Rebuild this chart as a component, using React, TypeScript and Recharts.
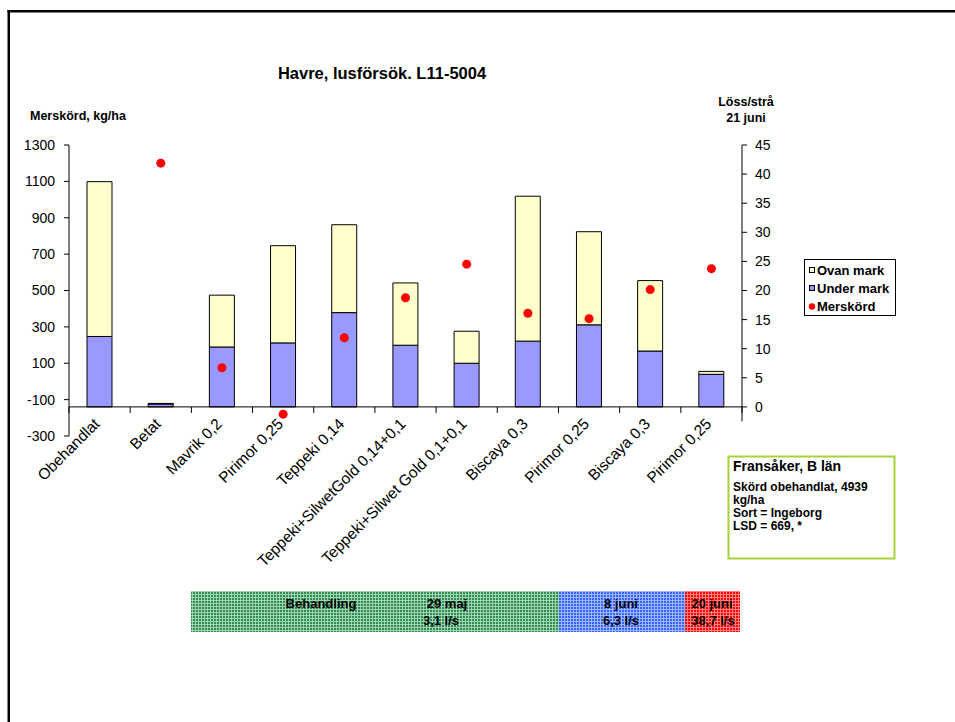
import React from 'react';
import { ComposedChart, Bar, Line, XAxis, YAxis, ReferenceLine } from 'recharts';

// ---------- data ----------
const categories = [
  'Obehandlat',
  'Betat',
  'Mavrik 0,2',
  'Pirimor 0,25',
  'Teppeki 0,14',
  'Teppeki+SilwetGold 0,14+0,1',
  'Teppeki+Silwet Gold 0,1+0,1',
  'Biscaya 0,3',
  'Pirimor 0,25',
  'Biscaya 0,3',
  'Pirimor 0,25',
];
const underMark = [12.1, 0.5, 10.3, 11.0, 16.2, 10.6, 7.5, 11.3, 14.1, 9.6, 5.6];
const ovanMark = [26.6, 0.1, 8.9, 16.7, 15.1, 10.7, 5.5, 24.9, 16.0, 12.1, 0.5];
const merskord: (number | null)[] = [null, 1200, 75, -180, 240, 460, 645, 375, 345, 505, 620];

const leftTicks = [-300, -100, 100, 300, 500, 700, 900, 1100, 1300];
const rightTicks = [0, 5, 10, 15, 20, 25, 30, 35, 40, 45];
const LEFT_DOMAIN: [number, number] = [-300, 1300];
const RIGHT_MIN = -5;
const RIGHT_MAX = 45;
const RIGHT_AXIS_END = -2.5;

const seriesNames = ['Ovan mark', 'Under mark', 'Merskörd'];
const title = 'Havre, lusförsök. L11-5004';
const leftTitle = 'Merskörd, kg/ha';
const rightTitle = ['Löss/strå', '21 juni'];
const infoHeading = 'Fransåker, B län';
const infoLines = ['Skörd obehandlat, 4939', 'kg/ha', 'Sort = Ingeborg', 'LSD = 669, *'];
const bandTexts = ['Behandling', '29 maj', '3,1 l/s', '8 juni', '6,3 l/s', '20 juni', '38,7 l/s'];

const data = categories.map((name, i) => ({
  name,
  under: underMark[i],
  ovan: ovanMark[i],
  mer: merskord[i],
}));

// ---------- layout ----------
const W = 955;
const H = 722;
const MARGIN = { top: 145, right: 153, bottom: 256, left: 9 };
const AXIS_W = 60;
const XAXIS_H = 30;
const PLOT_LEFT = MARGIN.left + AXIS_W;
const PLOT_RIGHT = W - MARGIN.right - AXIS_W;
const PLOT_TOP = MARGIN.top;
const PLOT_BOTTOM = H - MARGIN.bottom - XAXIS_H;
const PLOT_W = PLOT_RIGHT - PLOT_LEFT;
const PLOT_H = PLOT_BOTTOM - PLOT_TOP;
const PX_PER_UNIT = PLOT_H / (RIGHT_MAX - RIGHT_MIN);
const BAND = PLOT_W / categories.length;
const FONT = 'Arial, "Liberation Sans", sans-serif';

const COL_OVAN = '#FFFFCC';
const COL_UNDER = '#9999FF';
const COL_MER = '#FF0000';

const CatTick = (props: any) => {
  const { x, y, payload, index } = props;
  const zeroY = y - (0 - RIGHT_MIN) * PX_PER_UNIT;
  const ax = x + 1;
  const ay = zeroY + 18;
  return (
    <g>
      <line x1={x - BAND / 2} x2={x - BAND / 2} y1={zeroY} y2={zeroY + 6} stroke="#000" />
      {index === categories.length - 1 && (
        <line x1={x + BAND / 2} x2={x + BAND / 2} y1={zeroY} y2={zeroY + 6} stroke="#000" />
      )}
      <text
        x={ax}
        y={ay}
        textAnchor="end"
        fontSize={15.5}
        fill="#000"
        transform={`rotate(-45 ${ax} ${ay})`}
      >
        {payload.value}
      </text>
    </g>
  );
};

const RightTick = (props: any) => {
  const { x, y, payload } = props;
  const v = payload.value;
  return (
    <g>
      <line x1={x} x2={x + 5} y1={y} y2={y} stroke="#000" />
      <text x={x + 13} y={y} dy="0.355em" fontSize={14} fill="#000" textAnchor="start">
        {v}
      </text>
      {v === RIGHT_MAX && (
        <line x1={x} x2={x} y1={y} y2={y + (RIGHT_MAX - RIGHT_AXIS_END) * PX_PER_UNIT} stroke="#000" />
      )}
    </g>
  );
};

export default function App() {
  return (
    <div
      style={{
        position: 'absolute',
        left: 0,
        top: 0,
        width: W,
        height: H,
        background: '#fff',
        overflow: 'hidden',
        fontFamily: FONT,
      }}
    >
      <div style={{ position: 'absolute', left: 0, top: 0 }}>
        <ComposedChart width={W} height={H} data={data} margin={MARGIN} style={{ fontFamily: FONT }}>
          <XAxis
            dataKey="name"
            height={XAXIS_H}
            interval={0}
            tickLine={false}
            axisLine={false}
            tickSize={0}
            tickMargin={0}
            tick={<CatTick />}
          />
          <YAxis
            yAxisId="left"
            orientation="left"
            width={AXIS_W}
            domain={LEFT_DOMAIN}
            ticks={leftTicks}
            interval={0}
            tickSize={5}
            tickMargin={9}
            axisLine={{ stroke: '#000' }}
            tickLine={{ stroke: '#000' }}
            tick={{ fontSize: 14, fill: '#000' }}
          />
          <YAxis
            yAxisId="right"
            orientation="right"
            width={AXIS_W}
            domain={[RIGHT_MIN, RIGHT_MAX]}
            ticks={rightTicks}
            interval={0}
            tickSize={0}
            tickMargin={0}
            axisLine={false}
            tickLine={false}
            tick={<RightTick />}
          />
          <Bar
            yAxisId="right"
            dataKey="under"
            name={seriesNames[1]}
            stackId="lus"
            fill={COL_UNDER}
            stroke="#000"
            strokeWidth={1}
            barSize={25}
            isAnimationActive={false}
          />
          <Bar
            yAxisId="right"
            dataKey="ovan"
            name={seriesNames[0]}
            stackId="lus"
            fill={COL_OVAN}
            stroke="#000"
            strokeWidth={1}
            barSize={25}
            isAnimationActive={false}
          />
          <ReferenceLine yAxisId="right" y={0} stroke="#000" strokeWidth={1} />
          <Line
            yAxisId="left"
            dataKey="mer"
            name={seriesNames[2]}
            stroke="none"
            dot={{ r: 4.5, fill: COL_MER, stroke: 'none' }}
            activeDot={false}
            connectNulls={false}
            isAnimationActive={false}
          />
        </ComposedChart>
      </div>

      <svg
        width={W}
        height={H}
        style={{ position: 'absolute', left: 0, top: 0, pointerEvents: 'none', fontFamily: FONT }}
      >
        <defs>
          <pattern id="pGreen" width="3" height="3" patternUnits="userSpaceOnUse">
            <rect width="3" height="3" fill="#2E8B57" />
            <path d="M0 0.5H3M0.5 0V3" stroke="#9FD4AF" strokeWidth="1" />
          </pattern>
          <pattern id="pBlue" width="3" height="3" patternUnits="userSpaceOnUse">
            <rect width="3" height="3" fill="#3366FF" />
            <path d="M0 0.5H3M0.5 0V3" stroke="#A0B4FF" strokeWidth="1" />
          </pattern>
          <pattern id="pRed" width="3" height="3" patternUnits="userSpaceOnUse">
            <rect width="3" height="3" fill="#FF0000" />
            <path d="M0 0.5H3M0.5 0V3" stroke="#FF8080" strokeWidth="1" />
          </pattern>
        </defs>

        {/* frame */}
        <rect x={7.5} y={10} width={W} height={2.5} fill="#000" />
        <rect x={7.5} y={10} width={2.5} height={H} fill="#000" />

        {/* titles */}
        <text x={382} y={79} textAnchor="middle" fontSize={16.5} fontWeight="bold" fill="#000">
          {title}
        </text>
        <text x={30} y={119.5} fontSize={12.5} fontWeight="bold" fill="#000">
          {leftTitle}
        </text>
        <text x={746} y={105.5} textAnchor="middle" fontSize={12.5} fontWeight="bold" fill="#000">
          {rightTitle[0]}
        </text>
        <text x={746} y={121.5} textAnchor="middle" fontSize={12.5} fontWeight="bold" fill="#000">
          {rightTitle[1]}
        </text>

        {/* legend */}
        <rect x={804.5} y={259.5} width={91} height={56} fill="#fff" stroke="#000" strokeWidth={1} />
        <rect x={809.5} y={267.5} width={5} height={5} fill={COL_OVAN} stroke="#000" strokeWidth={1} />
        <text x={817} y={274.5} fontSize={13} fontWeight="bold" fill="#000">
          {seriesNames[0]}
        </text>
        <rect x={809.5} y={285.5} width={5} height={5} fill={COL_UNDER} stroke="#000" strokeWidth={1} />
        <text x={817} y={292.5} fontSize={13} fontWeight="bold" fill="#000">
          {seriesNames[1]}
        </text>
        <circle cx={812} cy={306.5} r={3.2} fill={COL_MER} />
        <text x={817} y={311} fontSize={13} fontWeight="bold" fill="#000">
          {seriesNames[2]}
        </text>

        {/* info box */}
        <rect x={728.5} y={456.5} width={166} height={102} fill="#fff" stroke="#A6D23C" strokeWidth={2} />
        <text x={733} y={471} fontSize={14} fontWeight="bold" fill="#000">
          {infoHeading}
        </text>
        {infoLines.map((t, i) => (
          <text key={i} x={733} y={491 + i * 13} fontSize={12} fontWeight="bold" fill="#000">
            {t}
          </text>
        ))}

        {/* treatment band */}
        <rect x={191} y={591} width={368} height={41} fill="url(#pGreen)" />
        <rect x={559} y={591} width={126} height={41} fill="url(#pBlue)" />
        <rect x={685} y={591} width={55} height={41} fill="url(#pRed)" />
        <g fontSize={13} fontWeight="bold" fill="#000" textAnchor="middle">
          <text x={321} y={607.5}>{bandTexts[0]}</text>
          <text x={447} y={607.5}>{bandTexts[1]}</text>
          <text x={441} y={624.5}>{bandTexts[2]}</text>
          <text x={621} y={607.5}>{bandTexts[3]}</text>
          <text x={621} y={624.5}>{bandTexts[4]}</text>
          <text x={712} y={607.5}>{bandTexts[5]}</text>
          <text x={713} y={624.5}>{bandTexts[6]}</text>
        </g>
      </svg>
    </div>
  );
}
